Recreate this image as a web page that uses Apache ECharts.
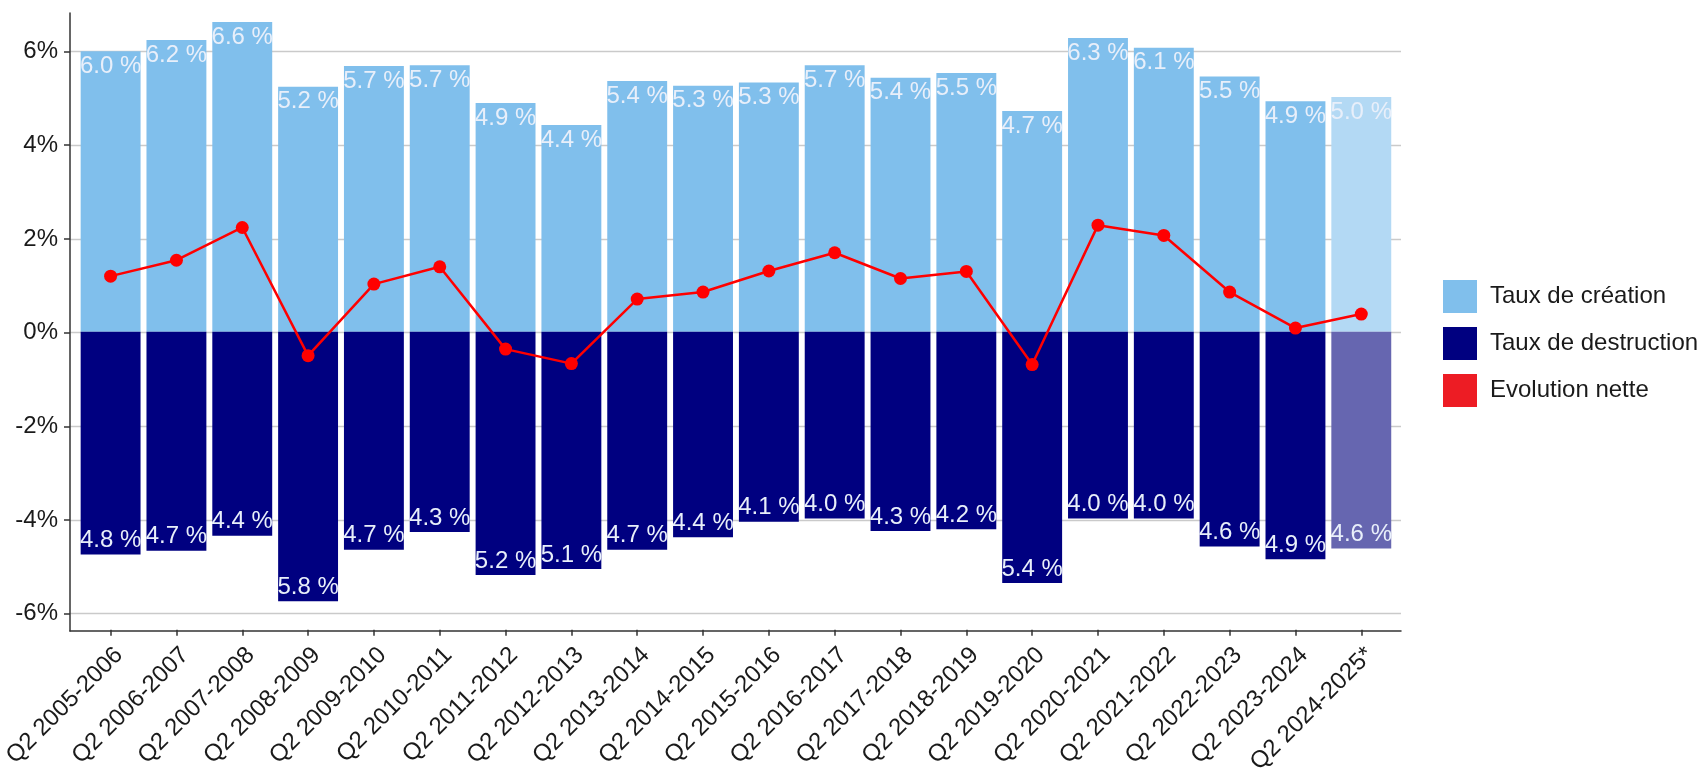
<!DOCTYPE html>
<html>
<head>
<meta charset="utf-8">
<script src="https://cdn.jsdelivr.net/npm/echarts@6/dist/echarts.min.js"></script>
<style>
html, body { margin: 0; padding: 0; background: #ffffff; }
#chart { width: 1703px; height: 777px; }
</style>
</head>
<body>
<div id="chart"></div>
<script>
// ---- Data ----
const categories = [
  'Q2 2005-2006', 'Q2 2006-2007', 'Q2 2007-2008', 'Q2 2008-2009', 'Q2 2009-2010',
  'Q2 2010-2011', 'Q2 2011-2012', 'Q2 2012-2013', 'Q2 2013-2014', 'Q2 2014-2015',
  'Q2 2015-2016', 'Q2 2016-2017', 'Q2 2017-2018', 'Q2 2018-2019', 'Q2 2019-2020',
  'Q2 2020-2021', 'Q2 2021-2022', 'Q2 2022-2023', 'Q2 2023-2024', 'Q2 2024-2025*'
];
const creationRate = [6.00, 6.24, 6.62, 5.24, 5.68, 5.70, 4.89, 4.42, 5.36, 5.26,
                      5.33, 5.70, 5.43, 5.53, 4.72, 6.28, 6.07, 5.46, 4.93, 5.02];
const destructionRate = [-4.76, -4.68, -4.36, -5.76, -4.66, -4.28, -5.20, -5.07, -4.66, -4.39,
                         -4.06, -3.99, -4.26, -4.22, -5.37, -3.99, -3.99, -4.59, -4.86, -4.63];
const netChange = [1.19, 1.53, 2.23, -0.51, 1.02, 1.39, -0.37, -0.68, 0.70, 0.85,
                   1.30, 1.69, 1.14, 1.29, -0.70, 2.28, 2.06, 0.85, 0.08, 0.38];
const yTickValues = [-6, -4, -2, 0, 2, 4, 6];
const seriesNames = ['Taux de création', 'Taux de destruction', 'Evolution nette'];

// ---- Styling ----
const FONT = "'Liberation Sans', Arial, sans-serif";
const TEXT = '#1a1a1a';
const AXIS = '#333333';
const C_CREATION = '#80BFEC';
const C_CREATION_PROV = '#B3D9F4';
const C_DESTRUCTION = '#000080';
const C_DESTRUCTION_PROV = '#6666B0';
const C_NET = '#FF0000';
const LABEL_COLOR = '#E8EFFA';

const isProvisional = categories.map(c => c.endsWith('*'));
const Y_MIN = -6.37, Y_MAX = 6.815;

const pctLabel = p => Math.abs(p.value).toFixed(1) + ' %';

const chart = echarts.init(document.getElementById('chart'), null, { renderer: 'canvas' });

chart.setOption({
  animation: false,
  backgroundColor: '#ffffff',
  textStyle: { fontFamily: FONT },
  grid: [
    { left: 70, top: 13, width: 1331, height: 618 },        // axis frame lines
    { left: 70, top: 51.5, width: 1331, height: 562.2 },    // y ticks, labels, gridlines (-6..6)
    { left: 76.6, top: 13, width: 1317.6, height: 618 }     // data
  ],
  xAxis: [
    {
      gridIndex: 0, type: 'value', min: 0, max: 1,
      axisLine: { show: true, onZero: false, lineStyle: { color: AXIS, width: 1.5 } },
      axisTick: { show: false }, axisLabel: { show: false }, splitLine: { show: false }
    },
    { gridIndex: 1, type: 'value', min: 0, max: 1, show: false },
    {
      gridIndex: 2, type: 'category', data: categories, boundaryGap: true,
      axisLine: { show: false, onZero: false },
      axisTick: { show: true, alignWithLabel: true, length: 6, lineStyle: { color: AXIS, width: 1.5 } },
      axisLabel: {
        interval: 0, rotate: 45, margin: 13, fontSize: 24, color: TEXT, fontFamily: FONT,
        verticalAlign: 'top'
      },
      splitLine: { show: false }
    }
  ],
  yAxis: [
    {
      gridIndex: 0, type: 'value', min: Y_MIN, max: Y_MAX,
      axisLine: { show: true, onZero: false, lineStyle: { color: AXIS, width: 1.5 } },
      axisTick: { show: false }, axisLabel: { show: false }, splitLine: { show: false }
    },
    {
      gridIndex: 1, type: 'value', min: yTickValues[0], max: yTickValues[yTickValues.length - 1], interval: 2,
      axisLine: { show: false },
      axisTick: { show: true, length: 6, lineStyle: { color: AXIS, width: 1.5 } },
      axisLabel: { margin: 12, fontSize: 24, color: TEXT, fontFamily: FONT, formatter: v => v + '%' },
      splitLine: { show: true, lineStyle: { color: '#CACACA', width: 1.3 } }
    },
    { gridIndex: 2, type: 'value', min: Y_MIN, max: Y_MAX, show: false }
  ],
  legend: {
    orient: 'vertical', left: 1438, top: 275,
    icon: 'rect', itemWidth: 34, itemHeight: 33, itemGap: 14,
    textStyle: { fontSize: 24, color: TEXT, fontFamily: FONT, padding: [0, 0, 0, 8] },
    data: [
      { name: seriesNames[0] },
      { name: seriesNames[1] },
      { name: seriesNames[2], itemStyle: { color: '#ED1C24' } }
    ]
  },
  series: [
    {
      name: seriesNames[0], type: 'bar', xAxisIndex: 2, yAxisIndex: 2, stack: 'rates',
      barWidth: '91%',
      itemStyle: { color: C_CREATION },
      data: creationRate.map((v, i) => isProvisional[i] ? { value: v, itemStyle: { color: C_CREATION_PROV } } : v),
      label: {
        show: true, position: 'insideTop', distance: 3, fontSize: 24, color: LABEL_COLOR,
        fontFamily: FONT, formatter: pctLabel
      }
    },
    {
      name: seriesNames[1], type: 'bar', xAxisIndex: 2, yAxisIndex: 2, stack: 'rates',
      barWidth: '91%',
      itemStyle: { color: C_DESTRUCTION },
      data: destructionRate.map((v, i) => isProvisional[i] ? { value: v, itemStyle: { color: C_DESTRUCTION_PROV } } : v),
      label: {
        show: true, position: 'insideBottom', distance: 2, fontSize: 24, color: LABEL_COLOR,
        fontFamily: FONT, formatter: pctLabel
      }
    },
    {
      name: seriesNames[2], type: 'line', xAxisIndex: 2, yAxisIndex: 2, z: 5,
      data: netChange,
      symbol: 'circle', symbolSize: 13,
      itemStyle: { color: C_NET },
      lineStyle: { color: C_NET, width: 2.5 }
    }
  ]
});
</script>
</body>
</html>
